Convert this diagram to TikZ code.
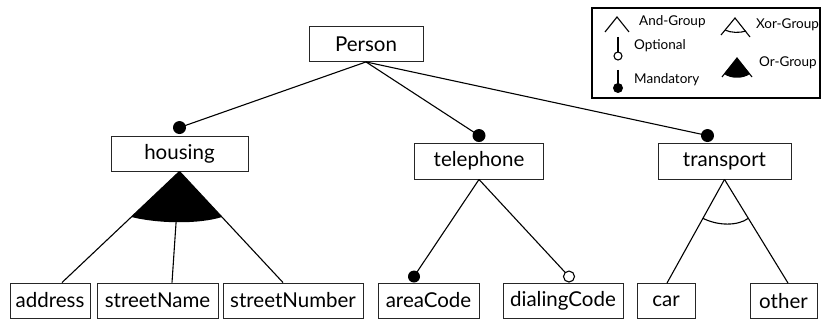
\documentclass[tikz,border=0pt]{standalone}
\usepackage{fontspec}
\setmainfont{Lato}
\usetikzlibrary{calc}
\tikzset{
  feat/.style={draw=black!85, line width=0.9pt, minimum height=35pt, inner sep=0pt, font=\fontsize{20.5}{23}\selectfont},
  edge/.style={line width=1.1pt},
  legtext/.style={anchor=west, inner sep=0pt, font=\fontsize{13.5}{15}\selectfont}
}
\begin{document}
\begin{tikzpicture}[x=1pt, y=-1pt]
  \useasboundingbox (0,0) rectangle (823,320);
  % features
  \node[feat, minimum width=114pt] (person) at (366,44) {Person};
  \node[feat, minimum width=137pt] (housing) at (179.5,153.5) {housing};
  \node[feat, minimum width=129pt, minimum height=36pt] (telephone) at (479,161) {telephone};
  \node[feat, minimum width=133pt, minimum height=36pt] (transport) at (724.5,161) {transport};
  \node[feat, minimum width=80pt] (address) at (50,300.5) {address};
  \node[feat, minimum width=121pt] (streetName) at (157.5,300.5) {streetName};
  \node[feat, minimum width=140pt] (streetNumber) at (293,300.5) {streetNumber};
  \node[feat, minimum width=101pt] (areaCode) at (428.5,300.5) {areaCode};
  \node[feat, minimum width=120pt] (dialingCode) at (563,300.5) {dialingCode};
  \node[feat, minimum width=58pt] (car) at (666,301) {car};
  \node[feat, minimum width=67pt] (other) at (783.5,301) {other};
  % mandatory children of Person
  \coordinate (mHousing) at ($(housing.north)+(0,-8)$);
  \coordinate (mTelephone) at ($(telephone.north)+(0,-7)$);
  \coordinate (mTransport) at ($(transport.north)+(-17,-7)$);
  \draw[edge] (person.south) -- (mHousing);
  \draw[edge] (person.south) -- (mTelephone);
  \draw[edge] (person.south) -- (mTransport);
  \fill (mHousing) circle[radius=6.5pt];
  \fill (mTelephone) circle[radius=6.5pt];
  \fill (mTransport) circle[radius=6.5pt];
  % or-group of housing
  \coordinate (hA) at ($(address.north)+(12,0)$);
  \coordinate (hN) at ($(streetName.north)+(14.5,0)$);
  \coordinate (hS) at ($(streetNumber.north)+(-10,0)$);
  \fill ($(housing.south)!0.41!(hA)$) -- (housing.south) -- ($(housing.south)!0.41!(hS)$)
    .. controls (200,224) and (160,224) .. ($(housing.south)!0.41!(hA)$);
  \draw[edge] (housing.south) -- (hA);
  \draw[edge] (housing.south) -- (hN);
  \draw[edge] (housing.south) -- (hS);
  % telephone
  \coordinate (mArea) at ($(areaCode.north)+(-14.5,-6)$);
  \coordinate (oDial) at ($(dialingCode.north)+(6,-6)$);
  \draw[edge] (telephone.south) -- (mArea);
  \draw[edge] (telephone.south) -- (oDial);
  \fill (mArea) circle[radius=6pt];
  \draw[edge, fill=white] (oDial) circle[radius=5.5pt];
  % xor-group of transport
  \coordinate (tC) at ($(car.north)+(1,0)$);
  \coordinate (tO) at ($(other.north)+(4.5,0)$);
  \draw[edge] (transport.south) -- (tC);
  \draw[edge] (transport.south) -- (tO);
  \draw[edge] ($(transport.south)!0.375!(tC)$) .. controls (718,226) and (738,226) .. ($(transport.south)!0.375!(tO)$);
  % legend
  \node[draw, line width=2.2pt, minimum width=228pt, minimum height=90pt] (legend) at (706,53) {};
  \draw[edge] (605,32) -- (617,17) -- (629,32);
  \node[legtext] (legAnd) at (639,22) {And-Group};
  \draw[edge] (618,37) -- (618,52);
  \draw[edge, fill=white] (618,56) circle[radius=4pt];
  \node[legtext] (legOpt) at (634,46) {Optional};
  \draw[edge] (618,70) -- (618,84);
  \fill (618,88) circle[radius=5pt];
  \node[legtext] (legMand) at (634,80) {Mandatory};
  \draw[edge] (721,35) -- (735,18) -- (750,37);
  \draw[edge] (725,30) .. controls (731,33) and (740,33) .. (746,31);
  \node[legtext] (legXor) at (756,25) {Xor-Group};
  \fill (737,58) -- (724,74) .. controls (731,79) and (743,79) .. (750,74) -- cycle;
  \draw[edge] (722,77) -- (737,58) -- (752,77);
  \node[legtext] (legOr) at (759,63) {Or-Group};
\end{tikzpicture}
\end{document}
